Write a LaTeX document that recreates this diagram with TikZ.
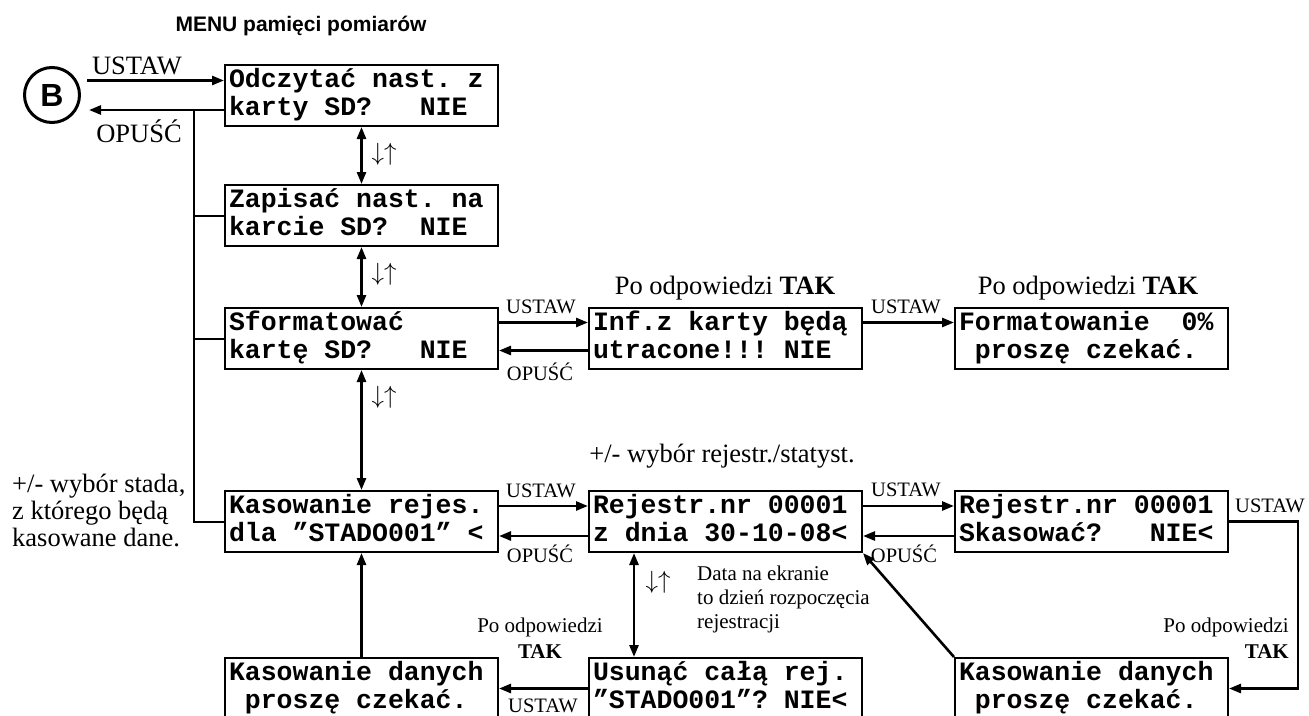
\documentclass[tikz,border=0pt]{standalone}
\usepackage{fontspec}
\setmainfont{Liberation Serif}
\setsansfont{Liberation Sans}
\setmonofont{Liberation Mono}
\usetikzlibrary{arrows.meta,calc}
\newcommand\lcdt[2]{\begin{tabular}{@{}l@{}}\makebox[265pt][l]{#1}\\\makebox[265pt][l]{#2}\end{tabular}}
\begin{document}
\begin{tikzpicture}[x=1pt,y=-1pt,
  lcd/.style={draw, line width=2pt, inner xsep=4pt, inner ysep=0pt, minimum width=273pt, minimum height=61pt, anchor=north west, font=\ttfamily\bfseries\fontsize{26.5}{28}\selectfont},
  arr/.style={line width=2.6pt, -{Triangle[length=12pt,width=9pt]}},
  darr/.style={line width=2.6pt, {Triangle[length=12pt,width=9pt]}-{Triangle[length=12pt,width=9pt]}},
  bus/.style={line width=2pt},
  lbl/.style={font=\fontsize{20.5}{22}\selectfont, inner sep=0pt, anchor=base},
  big/.style={font=\fontsize{26.5}{27}\selectfont, inner sep=0pt, anchor=base},
  small/.style={font=\fontsize{21}{24}\selectfont, inner sep=0pt},
  ud/.style={font=\fontsize{29}{29}\selectfont, inner sep=0pt}
]
\clip (0,0) rectangle (1309,715);
\fill[white] (0,0) rectangle (1309,715);

% title and B
\node[font=\sffamily\bfseries\fontsize{21}{21}\selectfont, inner sep=0pt, anchor=base] (title) at (301,31) {MENU pamięci pomiarów};
\node[draw, circle, line width=3pt, minimum size=55pt, inner sep=0pt, font=\sffamily\bfseries\fontsize{32}{32}\selectfont] (Bc) at (52,95) {B};

% boxes
\node[lcd] (b1) at (224,64) {\lcdt{Odczytać nast. z}{karty SD?~~~NIE}};
\node[lcd] (b2) at (224,184) {\lcdt{Zapisać nast. na}{karcie SD?~~NIE}};
\node[lcd] (b3) at (224,307) {\lcdt{Sformatować}{kartę SD?~~~NIE}};
\node[lcd] (b10) at (588,307) {\lcdt{Inf.z karty będą}{utracone!!! NIE}};
\node[lcd] (b11) at (954,307) {\lcdt{Formatowanie~~0\%}{~proszę czekać.}};
\node[lcd] (b4) at (224,490) {\lcdt{Kasowanie rejes.}{dla ”STADO001” <}};
\node[lcd] (b6) at (588,490) {\lcdt{Rejestr.nr 00001}{z dnia 30-10-08<}};
\node[lcd] (b9) at (954,490) {\lcdt{Rejestr.nr 00001}{Skasować?~~~NIE<}};
\node[lcd] (b5) at (224,657) {\lcdt{Kasowanie danych}{~proszę czekać.}};
\node[lcd] (b7) at (588,657) {\lcdt{Usunąć całą rej.}{”STADO001”? NIE<}};
\node[lcd] (b8) at (954,657) {\lcdt{Kasowanie danych}{~proszę czekać.}};

% B connections
\coordinate (b1in) at ($(b1.west)+(0,-15)$);
\coordinate (b1out) at ($(b1.west)+(0,14.5)$);
\draw[arr] ($(b1in -| Bc.east)+(6,0)$) -- (b1in);
\draw[arr] (b1out) -- ($(b1out -| Bc.east)+(8,0)$);
\coordinate (bus) at ($(b1out)+(-30,0)$);
\draw[bus] (bus) |- (b4.west);
\draw[bus] (b2.west -| bus) -- (b2.west);
\draw[bus] (b3.west -| bus) -- (b3.west);

% vertical
\draw[darr] (b1.south) -- (b2.north);
\draw[darr] (b2.south) -- (b3.north);
\draw[darr] (b3.south) -- (b4.north);
\draw[arr] (b5.north) -- (b4.south);
\draw[darr] ($(b6.south west)+(46,0)$) -- ($(b7.north west)+(46,0)$);

% row 3
\draw[arr] ($(b3.east)+(0,-16)$) -- ($(b10.west)+(0,-16)$);
\draw[arr] ($(b10.west)+(0,12)$) -- ($(b3.east)+(0,12)$);
\draw[arr] ($(b10.east)+(0,-16)$) -- ($(b11.west)+(0,-16)$);

% row 4
\draw[arr] ($(b4.east)+(0,-15.5)$) -- ($(b6.west)+(0,-15.5)$);
\draw[arr] ($(b6.west)+(0,14.5)$) -- ($(b4.east)+(0,14.5)$);
\draw[arr] ($(b6.east)+(0,-15.5)$) -- ($(b9.west)+(0,-15.5)$);
\draw[arr] ($(b9.west)+(0,14.5)$) -- ($(b6.east)+(0,14.5)$);
\coordinate (loop) at ($(b9.east)+(69,0)$);
\draw[arr] (b9.east) -- (loop) |- (b8.east);
\draw[arr] (b8.north west) -- (b6.south east);
\draw[arr] (b7.west) -- (b5.east);

% labels
\node[big] (u1) at (137,74) {USTAW};
\node[big] (o1) at (139,142) {OPUŚĆ};
\node[lbl] (u3) at (541,313) {USTAW};
\node[lbl] (o3) at (540,380) {OPUŚĆ};
\node[lbl] (u3b) at (906,313) {USTAW};
\node[lbl] (u4) at (541,497) {USTAW};
\node[lbl] (o4) at (540,562) {OPUŚĆ};
\node[lbl] (u4b) at (906,496) {USTAW};
\node[lbl] (o4b) at (904,562) {OPUŚĆ};
\node[lbl] (u4c) at (1270,512) {USTAW};
\node[lbl] (u5) at (543,712) {USTAW};

\node[big] (t1) at (725,294) {Po odpowiedzi \textbf{TAK}};
\node[big] (t2) at (1088,294) {Po odpowiedzi \textbf{TAK}};
\node[big] (t3) at (722,462) {+/- wybór rejestr./statyst.};

\node[big, anchor=base west] (s1) at (12,492) {+/- wybór stada,};
\node[big, anchor=base west] (s2) at (12,519) {z którego będą};
\node[big, anchor=base west] (s3) at (12,546) {kasowane dane.};

\node[small, anchor=base west] (d1) at (697,580) {Data na ekranie};
\node[small, anchor=base west] (d2) at (697,604) {to dzień rozpoczęcia};
\node[small, anchor=base west] (d3) at (697,628) {rejestracji};

\node[small, anchor=base] (p1) at (540,632) {Po odpowiedzi};
\node[small, anchor=base] (p2) at (540,658) {\textbf{TAK}};
\node[small, anchor=base east] (p3) at (1289,632) {Po odpowiedzi};
\node[small, anchor=base east] (p4) at (1289,658) {\textbf{TAK}};

\node[ud] (a1) at (384,154) {$\downarrow\uparrow$};
\node[ud] (a2) at (384,274) {$\downarrow\uparrow$};
\node[ud] (a3) at (384,397) {$\downarrow\uparrow$};
\node[ud] (a4) at (658,582) {$\downarrow\uparrow$};
\end{tikzpicture}
\end{document}
